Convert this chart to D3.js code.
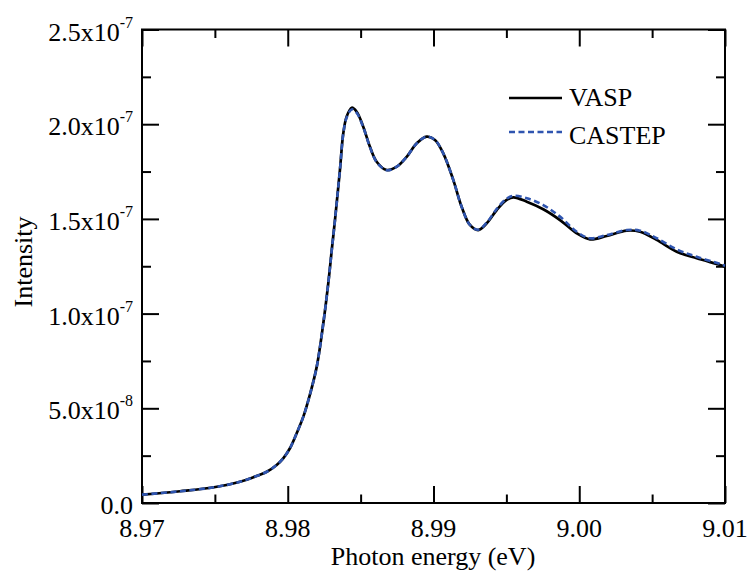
<!DOCTYPE html>
<html><head><meta charset="utf-8">
<script src="https://cdn.jsdelivr.net/npm/d3@7"></script>
<style>body{margin:0;background:#fff}svg{display:block}text{font-family:"Liberation Serif","Times New Roman",serif;fill:#000}</style>
</head><body>
<svg id="c" width="748" height="572"></svg>
<script>
const energy = [8.9700,8.97261,8.97494,8.97672,8.97764,8.97856,8.97924,8.97969,8.98015,8.98061,8.98107,8.98153,8.98199,8.98244,8.98278,8.98302,8.98324,8.98358,8.98381,8.98404,8.98439,8.98473,8.98518,8.98564,8.98610,8.98679,8.98748,8.98816,8.98885,8.98953,8.99010,8.99067,8.99136,8.99193,8.99250,8.99307,8.99365,8.99434,8.99502,8.99548,8.99640,8.99753,8.99868,8.99983,9.00074,9.00188,9.00326,9.00417,9.00531,9.00669,9.00806,9.00966,9.0100];
const vasp = [0.044,0.062,0.083,0.112,0.136,0.165,0.201,0.236,0.289,0.368,0.456,0.575,0.720,0.949,1.160,1.336,1.494,1.758,1.952,2.040,2.087,2.066,1.987,1.881,1.802,1.758,1.776,1.828,1.899,1.934,1.917,1.846,1.705,1.564,1.468,1.441,1.477,1.547,1.600,1.614,1.591,1.551,1.494,1.424,1.392,1.410,1.438,1.432,1.389,1.327,1.292,1.257,1.248];
const castep = [0.044,0.062,0.083,0.112,0.136,0.165,0.201,0.236,0.289,0.368,0.456,0.575,0.720,0.949,1.160,1.336,1.494,1.758,1.950,2.035,2.078,2.060,1.984,1.879,1.800,1.757,1.776,1.828,1.899,1.934,1.917,1.846,1.705,1.564,1.468,1.443,1.480,1.553,1.607,1.622,1.609,1.573,1.512,1.432,1.398,1.415,1.441,1.438,1.398,1.339,1.300,1.262,1.253];
const scaleExp = 1e-7;
const xTicks = [8.97,8.98,8.99,9.00,9.01];
const xTickLabels = ["8.97","8.98","8.99","9.00","9.01"];
const xMinor = [8.975,8.985,8.995,9.005];
const yTicks = [0,0.5e-7,1.0e-7,1.5e-7,2.0e-7,2.5e-7];
const yTickMain = ["0.0","5.0x10","1.0x10","1.5x10","2.0x10","2.5x10"];
const yTickSup = ["","-8","-7","-7","-7","-7"];
const yMinor = [0.25e-7,0.75e-7,1.25e-7,1.75e-7,2.25e-7];
const seriesNames = ["VASP","CASTEP"];

const svg = d3.select("#c");
const L=142,R=725,T=29.5,B=503;
const x = d3.scaleLinear().domain([8.97,9.01]).range([L,R]);
const y = d3.scaleLinear().domain([0,2.5e-7]).range([B,T]);

function ax(gen, tx, ty){
  const g = svg.append("g").attr("transform",`translate(${tx},${ty})`).call(gen);
  g.select(".domain").remove();
  g.selectAll("line").attr("stroke","#000").attr("stroke-width",2);
  g.selectAll("text").remove();
  return g;
}
ax(d3.axisBottom(x).tickValues(xTicks).tickSize(-17),0,B);
ax(d3.axisBottom(x).tickValues(xMinor).tickSize(-8.5),0,B);
ax(d3.axisTop(x).tickValues(xTicks).tickSize(-17),0,T);
ax(d3.axisTop(x).tickValues(xMinor).tickSize(-8.5),0,T);
ax(d3.axisLeft(y).tickValues(yTicks).tickSize(-17),L,0);
ax(d3.axisLeft(y).tickValues(yMinor).tickSize(-9),L,0);
ax(d3.axisRight(y).tickValues(yTicks).tickSize(-17),R,0);
ax(d3.axisRight(y).tickValues(yMinor).tickSize(-9),R,0);

svg.append("rect").attr("x",L).attr("y",T).attr("width",R-L).attr("height",B-T)
  .attr("fill","none").attr("stroke","#000").attr("stroke-width",2);

xTicks.forEach((v,i)=>{
  svg.append("text").attr("x",x(v)).attr("y",537).attr("text-anchor","middle")
    .attr("font-size",26).text(xTickLabels[i]);
});
yTicks.forEach((v,i)=>{
  const t = svg.append("text").attr("x",133).attr("y",y(v)+11).attr("text-anchor","end").attr("font-size",26);
  t.append("tspan").text(yTickMain[i]);
  if(yTickSup[i]) t.append("tspan").attr("font-size",16).attr("dy",-13).text(yTickSup[i]);
});

svg.append("text").attr("x",433).attr("y",565).attr("text-anchor","middle").attr("font-size",26).text("Photon energy (eV)");
svg.append("text").attr("transform","translate(32,262) rotate(-90)").attr("text-anchor","middle").attr("font-size",26).text("Intensity");

const line = d3.line().x((d,i)=>x(energy[i])).y(d=>y(d*scaleExp)).curve(d3.curveCatmullRom.alpha(0.5));
svg.append("path").datum(vasp).attr("d",line).attr("fill","none").attr("stroke","#000").attr("stroke-width",2.7);
svg.append("path").datum(castep).attr("d",line).attr("fill","none").attr("stroke","#2f55b0").attr("stroke-width",2.6).attr("stroke-dasharray","6,3.5");

// legend
svg.append("line").attr("x1",509).attr("x2",562).attr("y1",98).attr("y2",98).attr("stroke","#000").attr("stroke-width",2.7);
svg.append("text").attr("x",569).attr("y",106).attr("font-size",26).text(seriesNames[0]);
svg.append("line").attr("x1",509).attr("x2",562).attr("y1",132).attr("y2",132).attr("stroke","#2f55b0").attr("stroke-width",2.6).attr("stroke-dasharray","6,3.5");
svg.append("text").attr("x",569).attr("y",144).attr("font-size",26).text(seriesNames[1]);
</script>
</body></html>
